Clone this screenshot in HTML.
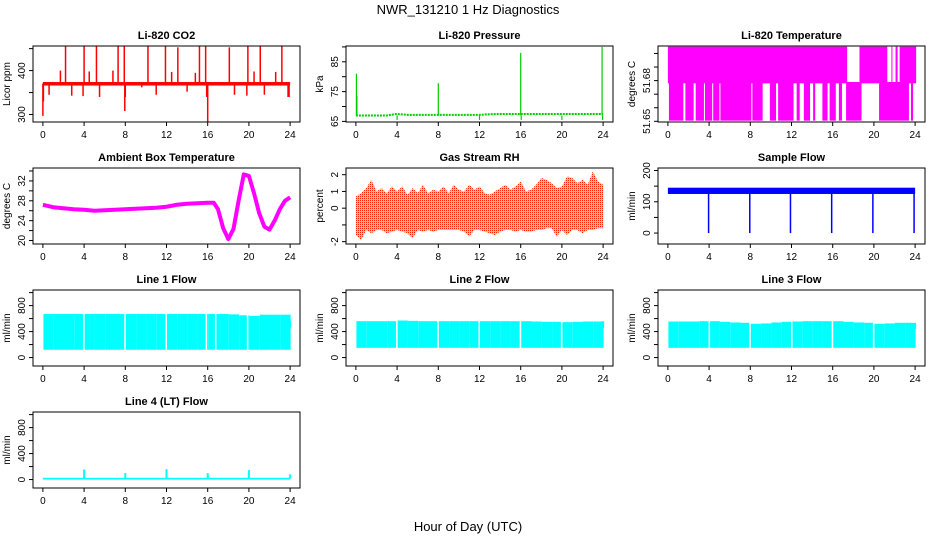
<!DOCTYPE html>
<html><head><meta charset="utf-8"><style>
html,body{margin:0;padding:0;background:#fff}
svg{display:block;font-family:"Liberation Sans",sans-serif}
</style></head><body>
<svg id="c" width="936" height="540" viewBox="0 0 936 540">
<defs>
<pattern id="rhpat" width="2" height="2" patternUnits="userSpaceOnUse">
<rect width="2" height="2" fill="#ffdd00"/><rect width="1" height="1" fill="#ff2000"/>
</pattern>
</defs>
<text x="468" y="14" text-anchor="middle" font-size="13">NWR_131210  1 Hz Diagnostics</text>
<text x="468" y="531" text-anchor="middle" font-size="13">Hour of Day (UTC)</text>
</svg>
<script>
// ---- data ----
const xTicks = [0,4,8,12,16,20,24];
const co2Base = 370.5;
const co2SpikeT = [0.0,0.05,0.6,1.7,2.2,2.8,3.9,4.0,4.5,5.2,5.5,6.8,7.3,7.9,7.95,8.0,9.6,10.2,11.0,11.9,12.5,13.1,14.0,14.8,15.2,15.8,15.9,16.0,18.1,18.6,19.8,19.9,20.5,21.1,21.5,22.6,23.2,23.8,23.9];
const co2SpikeV = [297,330,345,400,455,343,342,456,398,455,340,400,456,455,308,340,362,455,345,455,397,453,352,395,455,455,340,283,453,345,343,457,398,455,345,397,455,340,340];
const presBase = [67.0,67.0,67.0,67.0,67.5,67.2,67.2,67.2,67.2,67.2,67.2,67.2,67.2,67.4,67.5,67.5,67.5,67.5,67.5,67.5,67.5,67.5,67.5,67.5,67.5];
const presSpikeT = [0.05,0.1,4.0,8.0,12.0,16.0,16.05,20.0,23.9,23.95];
const presSpikeV = [81,73.5,65.5,77.8,65.5,88,65.5,65.5,90,65.5];
const tempHiStart = [0,18.6,21.7,22.1,22.5];
const tempHiEnd = [17.4,21.3,21.8,22.3,24.1];
const tempLoStart = [0.1,1.7,2.7,3.6,4.4,5.1,8.2,9.9,10.7,12.5,13.2,14.1,15.0,15.7,16.6,17.3,20.5,23.6];
const tempLoEnd = [1.5,2.5,3.5,4.3,5.0,8.1,9.2,10.5,12.2,12.8,13.8,14.3,15.5,16.3,16.9,18.8,23.4,23.8];
const ambT = [0,1,2,3,4,5,6,7,8,9,10,11,12,13,14,15,16,16.6,17,17.5,18,18.5,19,19.5,20,20.5,21,21.5,22,22.5,23,23.5,24];
const ambV = [27.2,26.7,26.5,26.3,26.2,26.0,26.1,26.2,26.3,26.4,26.5,26.6,26.8,27.2,27.4,27.5,27.6,27.6,26.3,22.5,20.3,22.3,28,33.3,33,29.5,25.5,22.8,22.2,24,26.3,28,28.7];
const rhHi = [0.7,0.9,1.2,1.7,1.0,1.2,0.9,1.3,1.0,1.3,0.8,1.2,0.9,1.4,0.9,1.1,1.0,1.3,0.9,1.4,1.1,1.0,1.4,1.1,1.3,0.9,0.8,1.0,1.2,1.4,1.1,1.3,1.6,1.0,1.1,1.4,1.8,1.7,1.5,1.2,1.3,1.9,1.8,1.5,1.7,1.4,2.2,1.6,1.4];
const rhLo = [-1.6,-1.9,-1.3,-1.5,-1.3,-1.3,-1.5,-1.4,-1.3,-1.4,-1.5,-1.8,-1.3,-1.4,-1.3,-1.4,-1.3,-1.3,-1.3,-1.3,-1.3,-1.4,-1.7,-1.3,-1.3,-1.4,-1.5,-1.6,-1.4,-1.3,-1.3,-1.4,-1.3,-1.4,-1.4,-1.3,-1.3,-1.2,-1.2,-1.7,-1.3,-1.6,-1.3,-1.3,-1.5,-1.3,-1.3,-1.2,-1.2];
const sfLo = 125, sfHi = 145;
const sfDipT = [3.95,7.95,11.9,15.9,19.9,23.9];
const sfDipV = [0,0,0,0,0,0];
const l1Hi = [670,670,670,670,670,670,670,670,670,670,670,670,670,670,670,670,670,670,665,650,640,660,660,660];
const l2Hi = [560,560,560,560,570,565,560,560,560,560,560,560,560,560,560,560,560,555,550,550,545,550,555,555];
const l3Hi = [555,555,555,560,560,550,540,535,520,525,540,550,555,560,560,560,560,550,540,535,520,525,535,535];
const flowLo = [120,150,150];
const l1GapT = [3.9,7.9,11.9,15.8,16.7,19.8];
const l2GapT = [3.9,7.9,11.9,15.9,19.9];
const l3GapT = [3.95,7.9,11.95,15.9,19.9];
const l4Base = 15;
const l4SpikeT = [4.0,8.0,12.0,16.0,20.0,24.0];
const l4SpikeV = [155,100,160,100,145,80];

// ---- layout ----
const svg = document.getElementById('c');
const NS = 'http://www.w3.org/2000/svg';
const colL = [33,346,658], rowT = [46,168,290,412], W = 267, H = 76;
function mk(tag, attrs, parent){const e=document.createElementNS(NS,tag);for(const k in attrs)e.setAttribute(k,attrs[k]);(parent||svg).appendChild(e);return e;}

function panel(col,row,title,ylab,ymin,ymax,ticks,labels,name){
  const L=colL[col],T=rowT[row];
  const g=mk('g',{});
  
  
  const xs=t=>L+(t+0.96)/25.92*W;
  const ys=v=>T+H-(v-ymin)/(ymax-ymin)*H;
  const t1=mk('text',{x:L+W/2,y:T-7,'text-anchor':'middle','font-size':11,'font-weight':'bold'},g);t1.textContent=title;
  
  
  const data=mk('g',{},g);
  
  
  const box=mk('rect',{x:L,y:T,width:W,height:H,fill:'none',stroke:'#000','stroke-width':1},g);
  
  
  const ax=mk('g',{},g);
  
  
  mk('line',{x1:xs(0),x2:xs(24),y1:T+H,y2:T+H,stroke:'#000'},ax);
  xTicks.forEach(t=>{mk('line',{x1:xs(t),x2:xs(t),y1:T+H,y2:T+H+4,stroke:'#000'},ax);
    const tx=mk('text',{x:xs(t),y:T+H+16,'text-anchor':'middle','font-size':10},ax);tx.textContent=t;
    
    });
  const ay=mk('g',{},g);
  
  
  mk('line',{x1:L,x2:L,y1:ys(ticks[0]),y2:ys(ticks[ticks.length-1]),stroke:'#000'},ay);
  ticks.forEach((v,i)=>{mk('line',{x1:L-4,x2:L,y1:ys(v),y2:ys(v),stroke:'#000'},ay);
    if(labels[i]!==''){const tx=mk('text',{x:0,y:0,'text-anchor':'middle','font-size':10,transform:`translate(${L-8},${ys(v)}) rotate(-90)`},ay);tx.textContent=labels[i];
    
    }});
  const yl=mk('text',{x:0,y:0,'text-anchor':'middle','font-size':10,transform:`translate(${L-23},${T+H/2}) rotate(-90)`},ay);yl.textContent=ylab;
  
  
  return {xs,ys,g:data};
}
function vline(p,t,v1,v2,col,w){return mk('line',{x1:p.xs(t),x2:p.xs(t),y1:p.ys(v1),y2:p.ys(v2),stroke:col,'stroke-width':w||1.5},p.g);}

// CO2
let p=panel(0,0,'Li-820 CO2','Licor ppm',283,456,[300,350,400,450],['300','','400',''],'co2');
mk('rect',{x:p.xs(0),y:p.ys(374),width:p.xs(24)-p.xs(0),height:p.ys(366)-p.ys(374),fill:'#ff0000'},p.g);
co2SpikeT.forEach((t,i)=>{const l=vline(p,t,co2Base,co2SpikeV[i],'#ff0000',1.5);});

// Pressure
p=panel(1,0,'Li-820 Pressure','kPa',64.8,90.3,[65,70,75,80,85,90],['65','','75','','85',''],'pressure');
let pts=presBase.map((v,i)=>p.xs(i)+','+p.ys(v)).join(' ');
const pl=mk('polyline',{points:pts,fill:'none',stroke:'#00cc00','stroke-width':2,'stroke-dasharray':'2,1'},p.g);

presSpikeT.forEach((t,i)=>{const l=vline(p,t,67,presSpikeV[i],'#00cc00',1.2);});

// Li-820 temperature
p=panel(2,0,'Li-820 Temperature','degrees C',51.6495,51.7055,[51.65,51.66,51.67,51.68,51.69,51.70],['51.65','','','51.68','',''],'li820-temp');
tempHiStart.forEach((s,i)=>{const r=mk('rect',{x:p.xs(s),y:p.ys(51.705),width:p.xs(tempHiEnd[i])-p.xs(s),height:p.ys(51.678)-p.ys(51.705),fill:'#ff00ff'},p.g);});
tempLoStart.forEach((s,i)=>{const r=mk('rect',{x:p.xs(s),y:p.ys(51.679),width:p.xs(tempLoEnd[i])-p.xs(s),height:p.ys(51.6505)-p.ys(51.679),fill:'#ff00ff'},p.g);});

// Ambient
p=panel(0,1,'Ambient Box Temperature','degrees C',19.3,34.6,[20,22,24,26,28,30,32,34],['20','','24','','28','','32',''],'ambient-temp');
pts=ambT.map((t,i)=>p.xs(t)+','+p.ys(ambV[i])).join(' ');
const al=mk('polyline',{points:pts,fill:'none',stroke:'#ff00ff','stroke-width':4,'stroke-linejoin':'round'},p.g);


// RH
p=panel(1,1,'Gas Stream RH','percent',-2.14,2.4,[-2,-1,0,1,2],['-2','','0','1','2'],'gas-rh');
let poly=[];rhHi.forEach((v,i)=>poly.push(p.xs(i/2)+','+p.ys(v)));
for(let i=rhLo.length-1;i>=0;i--)poly.push(p.xs(i/2)+','+p.ys(rhLo[i]));
const rp=mk('polygon',{points:poly.join(' '),fill:'url(#rhpat)'},p.g);


// Sample flow
p=panel(2,1,'Sample Flow','ml/min',-35,208,[0,50,100,150,200],['0','','100','','200'],'sample-flow');
mk('rect',{x:p.xs(0),y:p.ys(sfHi),width:p.xs(24)-p.xs(0),height:p.ys(sfLo)-p.ys(sfHi),fill:'#0000ff'},p.g);
sfDipT.forEach((t,i)=>{const l=vline(p,t,130,sfDipV[i],'#0000ff',1.5);});

// Line flows
function flowPanel(col,row,title,hi,lo,gaps,name){
  const q=panel(col,row,title,'ml/min',-130,1040,[0,200,400,600,800,1000],['0','','400','','800',''],name);
  hi.forEach((v,i)=>{const r=mk('rect',{x:q.xs(i+0.05),y:q.ys(v),width:q.xs(i+1)-q.xs(i),height:q.ys(lo)-q.ys(v),fill:'#00ffff'},q.g);});
  gaps.forEach(t=>{const r=mk('rect',{x:q.xs(t),y:q.ys(hi[Math.floor(t)])-1,width:1.5,height:q.ys(lo)-q.ys(hi[Math.floor(t)])+2,fill:'#fff'},q.g);});
  return q;
}
let q=flowPanel(0,2,'Line 1 Flow',l1Hi,flowLo[0],l1GapT,'line1-flow');
vline(q,24,460,560,'#00ffff',2);
q=flowPanel(1,2,'Line 2 Flow',l2Hi,flowLo[1],l2GapT,'line2-flow');
vline(q,24,450,560,'#00ffff',2);
q=flowPanel(2,2,'Line 3 Flow',l3Hi,flowLo[2],l3GapT,'line3-flow');
vline(q,24,440,530,'#00ffff',2);

// Line 4
p=panel(0,3,'Line 4 (LT) Flow','ml/min',-130,1040,[0,200,400,600,800,1000],['0','','400','','800',''],'line4-flow');
mk('rect',{x:p.xs(0),y:p.ys(l4Base+12),width:p.xs(24)-p.xs(0),height:p.ys(0)-p.ys(l4Base+12),fill:'#00ffff'},p.g);
l4SpikeT.forEach((t,i)=>{const l=vline(p,t,l4Base,l4SpikeV[i],'#00ffff',2);});
</script>
</body></html>
